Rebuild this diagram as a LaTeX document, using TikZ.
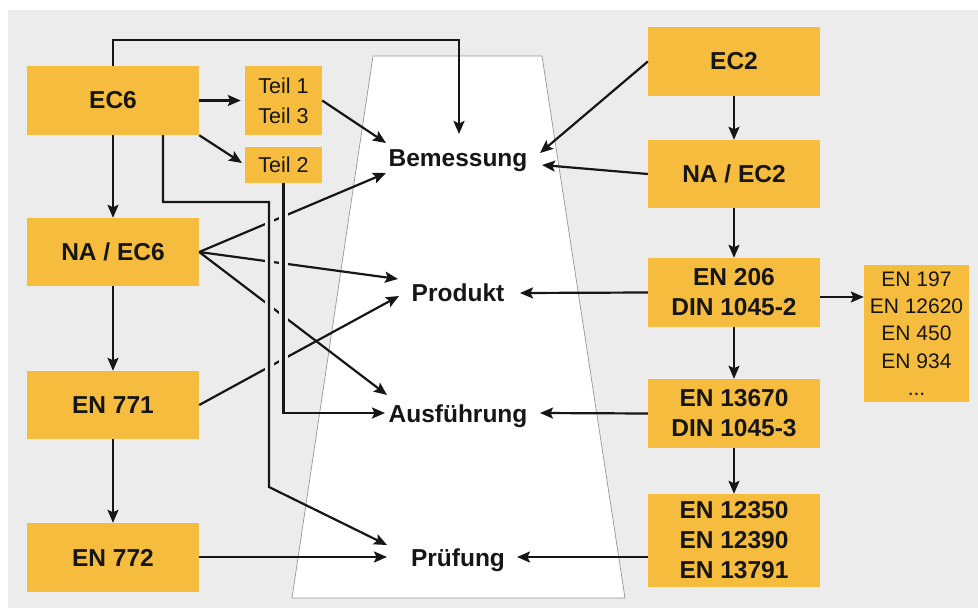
\documentclass[tikz,border=0pt]{standalone}
\usepackage{fontspec}
\setmainfont{Liberation Sans}
\usetikzlibrary{arrows.meta}
\definecolor{bggray}{RGB}{236,236,236}
\definecolor{boxfill}{RGB}{246,188,62}
\definecolor{ink}{RGB}{22,22,22}
\definecolor{edgegray}{RGB}{150,150,150}
\begin{document}
\begin{tikzpicture}[x=1pt,y=-1pt,
  box/.style={fill=boxfill, inner sep=0pt, text=ink, align=center,
    font=\fontsize{24.5}{30}\selectfont\bfseries},
  wide/.style={box, minimum width=172pt, minimum height=69pt},
  plainbox/.style={fill=boxfill, inner sep=0pt, text=ink, align=center},
  lbl/.style={anchor=base, inner sep=0pt, text=ink,
    font=\fontsize{24.5}{30}\selectfont\bfseries},
  conn/.style={draw=ink, line width=2.2pt,
    -{Stealth[length=13pt,width=11pt,inset=2.5pt]}},
  halo/.style={draw=bggray, line width=9pt}
]
\useasboundingbox (0,0) rectangle (978,608);
% backdrop
\fill[white] (0,0) rectangle (978,608);
\fill[bggray] (8,10) rectangle (978,608);
% central funnel
\path[fill=white, draw=edgegray, line width=0.7pt]
  (373,56) -- (542,56) -- (625,598) -- (292,598) -- cycle;

% left column: masonry standards
\node[wide] (ec6)    at (113,100.5) {EC6};
\node[wide, minimum height=68pt] (naec6) at (113,252) {NA / EC6};
\node[wide, minimum height=68pt] (en771) at (113,405) {EN 771};
\node[wide] (en772)  at (113,557.5) {EN 772};
\node[plainbox, minimum width=77pt, minimum height=69pt,
  font=\fontsize{21.5}{30}\selectfont] (teil13) at (283.5,100.5) {Teil 1\\Teil 3};
\node[plainbox, minimum width=77pt, minimum height=36pt,
  font=\fontsize{21.5}{30}\selectfont] (teil2) at (283.5,165) {Teil 2};

% right column: concrete standards
\node[wide] (ec2)     at (734,61.5) {EC2};
\node[wide, minimum height=68pt] (naec2) at (734,174) {NA / EC2};
\node[wide] (en206)   at (734,292.5) {EN 206\\DIN 1045-2};
\node[wide] (en13670) at (734,413.5) {EN 13670\\DIN 1045-3};
\node[wide, minimum height=93pt] (en12350) at (734,540.5) {EN 12350\\EN 12390\\EN 13791};
\node[plainbox, minimum width=105pt, minimum height=137pt,
  font=\fontsize{21}{27.3}\selectfont] (en197) at (916.5,333.5)
  {EN 197\\EN 12620\\EN 450\\EN 934\\...};

% topics inside the funnel
\node[lbl] (bem) at (458,166) {Bemessung};
\node[lbl] (prd) at (458,301) {Produkt};
\node[lbl] (aus) at (458,422) {Ausführung};
\node[lbl] (prf) at (458,566) {Prüfung};

% arrow end points beside the topics
\coordinate (bemTop) at (459,134);
\coordinate (bemTL)  at (386,143);
\coordinate (bemBL)  at (386,173);
\coordinate (bemTR)  at (540,153);
\coordinate (bemR)   at (542,165);
\coordinate (prdTL)  at (398,279);
\coordinate (prdBL)  at (399,296);
\coordinate (prdR)   at (520,293);
\coordinate (ausTL)  at (387,395);
\coordinate (ausL)   at (385,413);
\coordinate (ausR)   at (540,413);
\coordinate (prfTL)  at (387,545);
\coordinate (prfL)   at (387,557);
\coordinate (prfR)   at (517,557);

% left side connectors
\draw[conn] (ec6.north) |- (459,40) -- (bemTop);
\draw[conn, shorten >=4pt] (ec6.east) -- (teil13.west);
\draw[conn] (ec6.south east) -- (242,163);
\draw[conn] (ec6.south) -- (naec6.north);
\draw[conn] (teil13.east) -- (bemTL);
\draw[conn] (naec6.east) -- (bemBL);
\draw[conn] (naec6.east) -- (prdTL);
\draw[conn] (naec6.east) -- (ausTL);
\draw[conn] (en771.east) -- (prdBL);
\draw[conn] (naec6.south) -- (en771.north);
\draw[conn] (en771.south) -- (en772.north);
\draw[conn] (en772.east |- prfL) -- (prfL);
% long routed lines pass over the diagonals
\draw[halo] (269,212) -- (269,478);
\draw[halo] (283,192) -- (283,404);
\draw[conn] (163,135) -- (163,202) -- (269,202) -- (269,487) -- (prfTL);
\draw[conn] (teil2.south) |- (ausL);

% right side connectors
\draw[conn] (ec2.west) -- (bemTR);
\draw[conn] (naec2.west) -- (bemR);
\draw[conn] (ec2.south) -- (naec2.north);
\draw[conn] (naec2.south) -- (en206.north);
\draw[conn] (en206.west) -- (prdR);
\draw[conn] (en206.east |- 0,297) -- (en197.west |- 0,297);
\draw[conn] (en206.south) -- (en13670.north);
\draw[conn] (en13670.west) -- (ausR);
\draw[conn] (en13670.south) -- (en12350.north);
\draw[conn] (en12350.west |- prfR) -- (prfR);
\end{tikzpicture}
\end{document}
